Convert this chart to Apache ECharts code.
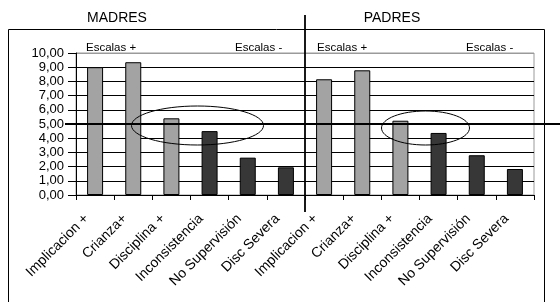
<!DOCTYPE html>
<html>
<head>
<meta charset="utf-8">
<script src="https://cdn.jsdelivr.net/npm/echarts@6/dist/echarts.min.js"></script>
<style>
  html, body { margin: 0; padding: 0; background: #fff; }
  #chart { width: 560px; height: 302px; }
</style>
</head>
<body>
<div id="chart"></div>
<script>
// data
var escalas = ['Implicacion +', 'Crianza+', 'Disciplina +', 'Inconsistencia', 'No Supervisión', 'Disc Severa']
var madres = [9.0, 9.35, 5.4, 4.5, 2.63, 1.95]
var padres = [8.15, 8.78, 5.23, 4.37, 2.8, 1.83]
var yTicks = [0, 10, 1]  // min, max, interval

var font = 'Liberation Sans, Arial, sans-serif'
var light = '#a3a3a3'
var dark = '#373737'

var labels = escalas.concat(escalas)
var values = madres.concat(padres)

var chart = echarts.init(document.getElementById('chart'))

var gridColors = []
for (var i = 0; i < 10; i++) gridColors.push('#000')
gridColors.push('#9a9a9a')

chart.setOption({
  animation: false,
  textStyle: { fontFamily: font },
  grid: {
    left: 76, right: 26, top: 53, bottom: 107,
    show: true, borderColor: '#9a9a9a', borderWidth: 1
  },
  xAxis: {
    type: 'category',
    data: labels,
    axisLine: { lineStyle: { color: '#000', width: 1 } },
    axisTick: { show: true, length: 5, lineStyle: { color: '#000' } },
    axisLabel: {
      interval: 0, rotate: 45, margin: 13,
      padding: [0, 12, 0, 0],
      color: '#000', fontSize: 14, fontFamily: font
    }
  },
  yAxis: {
    type: 'value',
    min: yTicks[0], max: yTicks[1], interval: yTicks[2],
    axisLine: { show: true, lineStyle: { color: '#000' } },
    axisTick: { show: true, length: 8, lineStyle: { color: '#000' } },
    axisLabel: {
      color: '#000', fontSize: 13, margin: 12, fontFamily: font,
      formatter: function (v) { return v.toFixed(2).replace('.', ',') }
    },
    splitLine: { lineStyle: { color: gridColors, width: 1 } }
  },
  series: [{
    type: 'bar',
    data: values,
    barWidth: 16,
    itemStyle: {
      borderColor: '#000',
      borderWidth: 1,
      color: function (p) { return p.dataIndex % 6 < 3 ? light : dark }
    }
  }]
})

// annotations
var y5 = chart.convertToPixel({ yAxisIndex: 0 }, 5)
// boundary between the two groups (between category 5 and 6)
var xMid = (chart.convertToPixel({ xAxisIndex: 0 }, 5) + chart.convertToPixel({ xAxisIndex: 0 }, 6)) / 2
function txt(x, y, s, size, align) {
  return {
    type: 'text', x: x, y: y, z: 10,
    style: { text: s, fill: '#000', font: size + 'px ' + font, textAlign: align || 'left', textVerticalAlign: 'middle' }
  }
}
chart.setOption({
  graphic: [
    { type: 'rect', shape: { x: 8.5, y: 29.5, width: 536, height: 290 }, style: { fill: 'none', stroke: '#000', lineWidth: 1 }, z: 5 },
    txt(117, 18, 'MADRES', 14, 'center'),
    txt(392, 18, 'PADRES', 14, 'center'),
    txt(86, 48, 'Escalas +', 11.5),
    txt(235, 48, 'Escalas -', 11.5),
    txt(317, 48, 'Escalas +', 11.5),
    txt(466, 48, 'Escalas -', 11.5),
    { type: 'line', z: 20, shape: { x1: 65, y1: y5, x2: 560, y2: y5 }, style: { stroke: '#000', lineWidth: 2 } },
    { type: 'line', z: 20, shape: { x1: xMid, y1: 15, x2: xMid, y2: 212 }, style: { stroke: '#000', lineWidth: 1.8 } },
    { type: 'ellipse', z: 20, shape: { cx: 197.5, cy: 125.5, rx: 66, ry: 19.5 }, style: { fill: 'none', stroke: '#000', lineWidth: 1 } },
    { type: 'ellipse', z: 20, shape: { cx: 425.5, cy: 128, rx: 44, ry: 17 }, style: { fill: 'none', stroke: '#000', lineWidth: 1 } }
  ]
})
</script>
</body>
</html>
